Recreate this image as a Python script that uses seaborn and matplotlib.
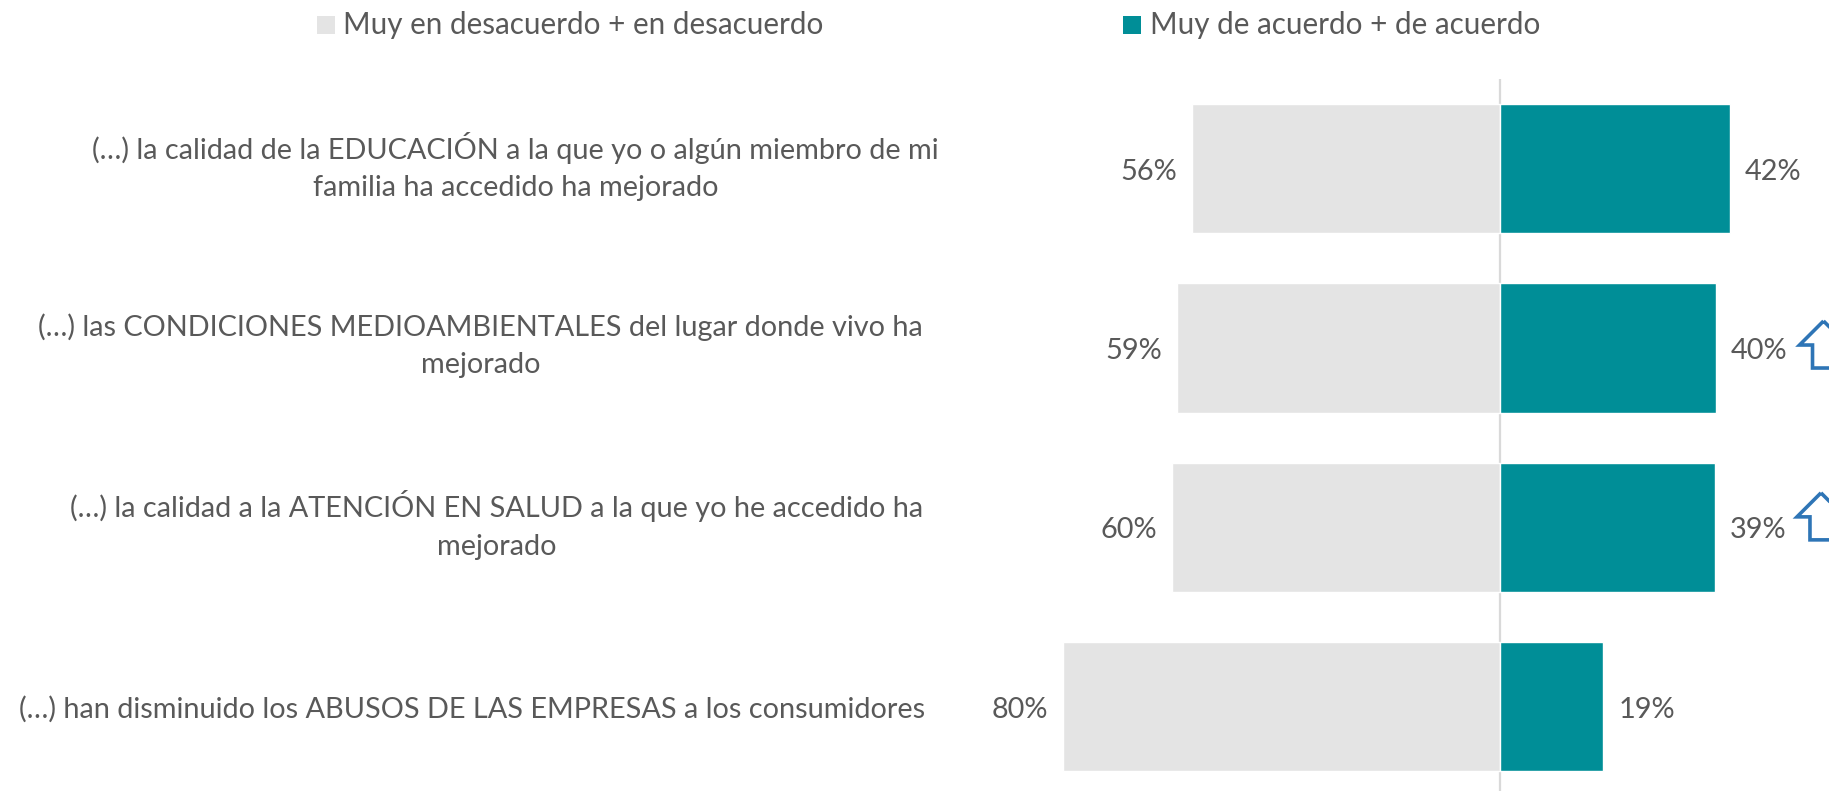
import numpy as np
import pandas as pd
import seaborn as sns
import matplotlib
matplotlib.use('Agg')
import matplotlib.pyplot as plt
from matplotlib.patches import Polygon, Rectangle
from matplotlib.transforms import IdentityTransform, blended_transform_factory

# datos
labels = [
    "(…) la calidad de la EDUCACIÓN a la que yo o algún miembro de mi\nfamilia ha accedido ha mejorado",
    "(…) las CONDICIONES MEDIOAMBIENTALES del lugar donde vivo ha\nmejorado",
    "(…) la calidad a la ATENCIÓN EN SALUD a la que yo he accedido ha\nmejorado",
    "(…) han disminuido los ABUSOS DE LAS EMPRESAS a los consumidores",
]
desacuerdo = [56.3, 59.0, 59.9, 79.9]
acuerdo = [42.0, 39.4, 39.3, 18.8]
desacuerdo_txt = ["56%", "59%", "60%", "80%"]
acuerdo_txt = ["42%", "40%", "39%", "19%"]
leyenda = ["Muy en desacuerdo + en desacuerdo", "Muy de acuerdo + de acuerdo"]

W, H = 1829, 791
GRIS = '#E4E4E4'
VERDE = '#008E97'
TEXTO = '#595959'
AZUL = '#2E75B6'
FS = 20.8

sns.set_style('white')
plt.rcParams['font.family'] = ['Lato', 'DejaVu Sans']

df = pd.DataFrame({'item': labels, 'desacuerdo': -np.array(desacuerdo), 'acuerdo': acuerdo})

fig = plt.figure(figsize=(W / 100, H / 100), dpi=100)
ax = fig.add_axes([0, 0, 1, 1 - 79 / H])

ax.axvline(0, color='#D9D9D9', lw=1.6, zorder=0)
sns.barplot(data=df, y='item', x='desacuerdo', color=GRIS, saturation=1, width=0.72, ax=ax)
sns.barplot(data=df, y='item', x='acuerdo', color=VERDE, saturation=1, width=0.72, ax=ax)

# escala: el cero cae en x=1500 px, 5.47 px por punto
ax.set_xlim(-1500 / 5.47, (W - 1500) / 5.47)
ax.set_ylim(3.47, -0.5)
ax.set_xlabel('')
ax.set_ylabel('')
ax.set_xticks([])
ax.set_yticks([])
sns.despine(ax=ax, left=True, bottom=True, top=True, right=True)
ax.patch.set_alpha(0)

for cont, txts in zip(ax.containers, [desacuerdo_txt, acuerdo_txt]):
    for ann in ax.bar_label(cont, labels=txts, padding=11, fontsize=FS, color=TEXTO):
        ann.xyann = (ann.xyann[0], -2.2)

# textos de cada fila, borde derecho en pixeles
trans = blended_transform_factory(ax.transAxes, ax.transData)
bordes = [939, 923, 923, 925]
for i, txt in enumerate(labels):
    dos_lineas = '\n' in txt
    ax.text(bordes[i] / W, i - 0.012 if dos_lineas else i, txt, transform=trans, ha='right',
            va='center' if dos_lineas else 'center_baseline',
            multialignment='center', fontsize=FS, color=TEXTO, linespacing=1.55)

# flechas cortadas por el borde derecho (apice, punta izq, cuerpo)
forma = np.array([[0, -24], [-24, 0], [-11, 0], [-11, 23], [11, 23], [11, 0], [24, 0]])
flechas = {1: (108, -3), 2: (106, -10.5)}
for i, (dx, dy) in flechas.items():
    x0, y0 = ax.transData.transform((acuerdo[i], i))
    pts = np.column_stack([x0 + dx + forma[:, 0], y0 - dy - forma[:, 1]])
    fig.add_artist(Polygon(pts, closed=True, fill=False, edgecolor=AZUL, lw=2.6,
                           joinstyle='miter', transform=IdentityTransform()))

# leyenda arriba
for x_sq, x_txt, color, txt in [(317, 343, GRIS, leyenda[0]), (1123, 1150, VERDE, leyenda[1])]:
    fig.add_artist(Rectangle((x_sq / W, 1 - 34 / H), 18 / W, 18 / H, color=color, lw=0,
                             transform=fig.transFigure))
    fig.text(x_txt / W, 1 - 25 / H, txt, ha='left', va='center', fontsize=21.3, color=TEXTO)

fig.savefig('out.png', dpi=100, facecolor='white')
